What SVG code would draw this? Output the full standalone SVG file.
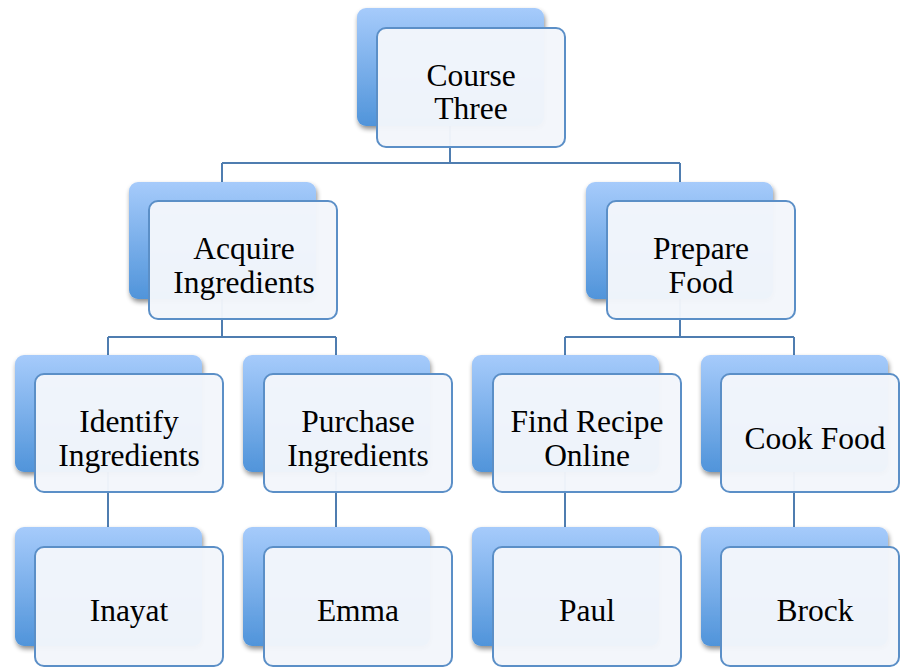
<svg xmlns="http://www.w3.org/2000/svg" width="901" height="667" viewBox="0 0 901 667">
<defs>
<linearGradient id="bg" x1="0" y1="0" x2="0" y2="1">
<stop offset="0" stop-color="#A6CBFB"/>
<stop offset="1" stop-color="#5094DA"/>
</linearGradient>
<filter id="sh" x="-10%" y="-10%" width="130%" height="130%">
<feGaussianBlur in="SourceAlpha" stdDeviation="2.5"/>
<feOffset dx="1" dy="3" result="b"/>
<feComponentTransfer><feFuncA type="linear" slope="0.45"/></feComponentTransfer>
<feMerge><feMergeNode/><feMergeNode in="SourceGraphic"/></feMerge>
</filter>
</defs>
<style>
.back{fill:url(#bg);filter:url(#sh)}
.front{fill:#F3F6FB;fill-opacity:0.97;stroke:#5B8FC7;stroke-width:2}
.con{fill:none;stroke:#4F7DB0;stroke-width:2}
text{font-family:"Liberation Serif","Times New Roman",serif;font-size:31.5px;fill:#000;text-anchor:middle}
</style>
<g id="connectors">
<path class="con" d="M450,126V163M222,163H680M222,163V182M680,163V182"/>
<path class="con" d="M222,299V337M108,337H336M108,337V355M336,337V355"/>
<path class="con" d="M680,299V337M565,337H794M565,337V355M794,337V355"/>
<path class="con" d="M108,472V527M336,472V527M565,472V527M794,472V527"/>
</g>
<g id="course-three">
<rect class="back" x="357" y="8" width="187" height="118" rx="9"/>
<rect class="front" x="377" y="28" width="188" height="119" rx="9"/>
<text x="471" y="86">Course</text><text x="471" y="119">Three</text>
</g>
<g id="acquire-ingredients">
<rect class="back" x="129" y="182" width="187" height="117" rx="9"/>
<rect class="front" x="149" y="201" width="188" height="118" rx="9"/>
<text x="244" y="259">Acquire</text><text x="244" y="293">Ingredients</text>
</g>
<g id="prepare-food">
<rect class="back" x="586" y="182" width="187" height="117" rx="9"/>
<rect class="front" x="607" y="201" width="188" height="118" rx="9"/>
<text x="701" y="259">Prepare</text><text x="701" y="293">Food</text>
</g>
<g id="identify-ingredients">
<rect class="back" x="15" y="355" width="187" height="117" rx="9"/>
<rect class="front" x="35" y="374" width="188" height="118" rx="9"/>
<text x="129" y="432">Identify</text><text x="129" y="466">Ingredients</text>
</g>
<g id="purchase-ingredients">
<rect class="back" x="243" y="355" width="187" height="117" rx="9"/>
<rect class="front" x="264" y="374" width="188" height="118" rx="9"/>
<text x="358" y="432">Purchase</text><text x="358" y="466">Ingredients</text>
</g>
<g id="find-recipe-online">
<rect class="back" x="472" y="355" width="187" height="117" rx="9"/>
<rect class="front" x="493" y="374" width="188" height="118" rx="9"/>
<text x="587" y="432">Find Recipe</text><text x="587" y="466">Online</text>
</g>
<g id="cook-food">
<rect class="back" x="701" y="355" width="187" height="117" rx="9"/>
<rect class="front" x="721" y="374" width="178" height="118" rx="9"/>
<text x="815" y="449">Cook Food</text>
</g>
<g id="inayat">
<rect class="back" x="15" y="527" width="187" height="119" rx="9"/>
<rect class="front" x="35" y="547" width="188" height="119" rx="9"/>
<text x="129" y="621">Inayat</text>
</g>
<g id="emma">
<rect class="back" x="243" y="527" width="187" height="119" rx="9"/>
<rect class="front" x="264" y="547" width="188" height="119" rx="9"/>
<text x="358" y="621">Emma</text>
</g>
<g id="paul">
<rect class="back" x="472" y="527" width="187" height="119" rx="9"/>
<rect class="front" x="493" y="547" width="188" height="119" rx="9"/>
<text x="587" y="621">Paul</text>
</g>
<g id="brock">
<rect class="back" x="701" y="527" width="187" height="119" rx="9"/>
<rect class="front" x="721" y="547" width="178" height="119" rx="9"/>
<text x="815" y="621">Brock</text>
</g>
</svg>
